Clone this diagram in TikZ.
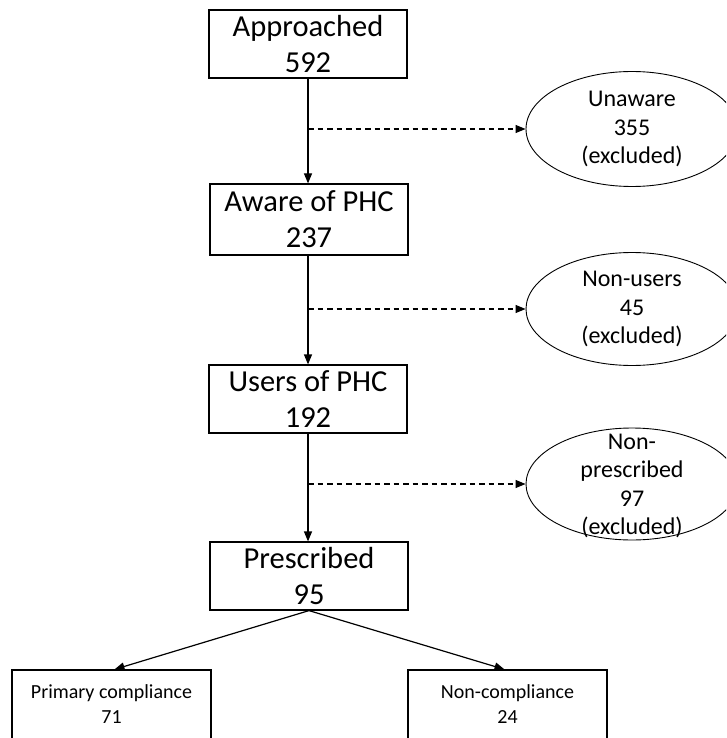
\documentclass[tikz,border=0pt]{standalone}
\usepackage{fontspec}
\setmainfont{Carlito}
\usetikzlibrary{arrows.meta,shapes.geometric}
\begin{document}
\begin{tikzpicture}[x=1pt,y=-1pt,
  stage/.style={draw, line width=1.2pt, minimum width=198pt, minimum height=68pt,
    inner sep=0pt, align=center, font=\fontsize{30.5}{36}\selectfont},
  exclshape/.style={draw, ellipse, line width=0.9pt, minimum width=212pt,
    minimum height=115pt, inner sep=0pt},
  excltext/.style={inner sep=0pt, align=center, font=\fontsize{24}{28.5}\selectfont},
  outcome/.style={draw, line width=1.2pt, minimum width=199pt, minimum height=69pt,
    inner sep=0pt, align=center, font=\fontsize{20}{25}\selectfont},
  flow/.style={line width=1.2pt, -{Triangle[length=10pt,width=8pt]}},
  side/.style={line width=1.1pt, dash pattern=on 5.5pt off 4pt,
    -{Triangle[length=10pt,width=8pt]}}]

\useasboundingbox (0,0) rectangle (726,738);
\clip (0,0) rectangle (726,738);

% main flow
\node[stage] (appr)  at (308,44)    {Approached\\592};
\node[stage, minimum height=71pt] (aware) at (309,219.5) {Aware of PHC\\237};
\node[stage] (users) at (308,399)   {Users of PHC\\192};
\node[stage] (presc) at (309,576)   {Prescribed\\95};

% excluded groups
\node[exclshape] (unaw)  at (632,129) {};
\node[excltext]  (unawt) at (unaw.center) {Unaware\\355\\(excluded)};
\node[exclshape, minimum height=113pt] (nonu)  at (632,309) {};
\node[excltext]  (nonut) at (nonu.center) {Non-users\\45\\(excluded)};
\node[exclshape, minimum height=112pt] (nonp)  at (632,484) {};
\node[excltext, yshift=-2pt] (nonpt) at (nonp.center) {Non-\\prescribed\\97\\(excluded)};

% outcomes
\node[outcome] (prim) at (111.5,704.5) {Primary compliance\\71};
\node[outcome] (nonc) at (507.5,704.5) {Non-compliance\\24};

% branch points on the vertical arrows
\coordinate (b1) at (308,129);
\coordinate (b2) at (308,309);
\coordinate (b3) at (308,484);

\draw[flow] (appr.south) -- (appr.south |- aware.north);
\draw[flow] (appr.south |- aware.south) -- (appr.south |- users.north);
\draw[flow] (users.south) -- (users.south |- presc.north);

\draw[side] (b1) -- (unaw.west);
\draw[side] (b2) -- (nonu.west);
\draw[side] (b3) -- (nonp.west);

\draw[flow] (presc.south) -- ([xshift=3pt]prim.north);
\draw[flow] (presc.south) -- ([xshift=-3pt]nonc.north);
\end{tikzpicture}
\end{document}
